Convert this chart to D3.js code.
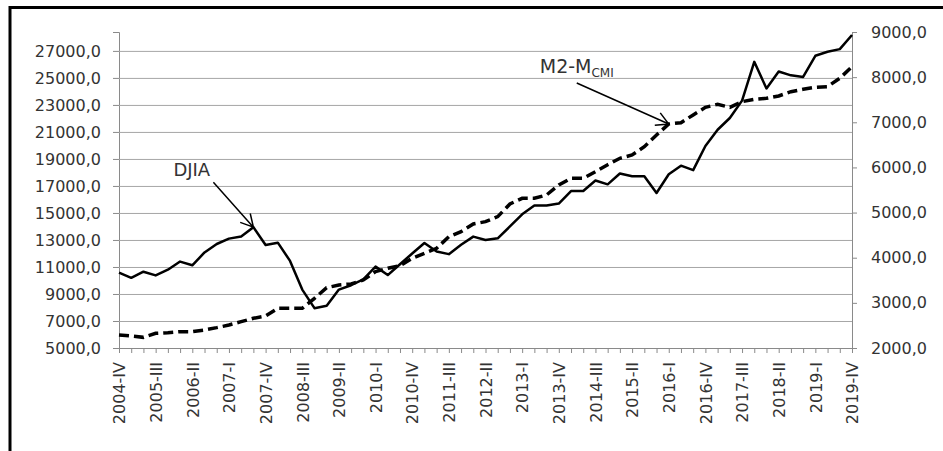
<!DOCTYPE html>
<html>
<head>
<meta charset="utf-8">
<script src="https://cdn.jsdelivr.net/npm/d3@7"></script>
<style>
  body { margin: 0; background: #fff; }
  text { font-family: "DejaVu Sans", sans-serif; fill: #333; }
</style>
</head>
<body>
<div id="chart"></div>
<script>
// quarters from 2004-IV to 2019-IV
const years = d3.range(2004, 2020);
const quarters = ["I", "II", "III", "IV"];
const categories = years.flatMap(y => quarters.map(q => y + "-" + q)).slice(3);

// DJIA, left axis
const djia = [
    10580, 10200, 10650, 10375, 10800, 11400, 11125, 12075, 12700, 13100,
    13250, 13950, 12625, 12800, 11450, 9325, 7950, 8125, 9325, 9650,
    10075, 11025, 10400, 11200, 12000, 12775, 12150, 11950, 12650, 13250,
    13000, 13125, 14000, 14900, 15550, 15550, 15700, 16625, 16625, 17400,
    17120, 17920, 17720, 17720, 16480, 17870, 18500, 18170, 19960, 21160,
    22030, 23320, 26190, 24220, 25470, 25190, 25070, 26640, 26940, 27130,
    28180
];

// M2-M_CMI, right axis
const m2 = [
    2288, 2266, 2236, 2325, 2340, 2362, 2362, 2399, 2451, 2510,
    2584, 2658, 2709, 2879, 2879, 2879, 3100, 3336, 3396, 3420,
    3506, 3691, 3765, 3824, 3987, 4098, 4209, 4466, 4577, 4747,
    4799, 4910, 5190, 5316, 5316, 5390, 5611, 5759, 5759, 5906,
    6060, 6202, 6276, 6460, 6719, 6962, 6991, 7162, 7332, 7398,
    7332, 7457, 7509, 7531, 7583, 7678, 7731, 7775, 7790, 7975,
    8232
];

const leftTicks = d3.range(5000, 27001, 2000);
const rightTicks = d3.range(2000, 9001, 1000);

const W = 943, H = 451;
const plot = { left: 119, right: 852, top: 32, bottom: 348 };

const svg = d3.select("#chart").append("svg")
    .attr("width", W)
    .attr("height", H);

const x = d3.scalePoint().domain(categories).range([plot.left, plot.right]);
const yL = d3.scaleLinear().domain([5000, 28400]).range([plot.bottom, plot.top]);
const yR = d3.scaleLinear().domain([2000, 9000]).range([plot.bottom, plot.top]);

const fmt = v => d3.format(".1f")(v).replace(".", ",");

// outer frame (only top and left edges are visible)
svg.append("path")
    .attr("d", `M10,${H} V7.5 H${W}`)
    .attr("fill", "none")
    .attr("stroke", "#000")
    .attr("stroke-width", 3);

// gridlines + left axis
const gl = svg.append("g")
    .attr("transform", `translate(${plot.left},0)`)
    .call(d3.axisLeft(yL).tickValues(leftTicks).tickSize(6).tickFormat(fmt));
gl.select(".domain").attr("stroke", "#8a8a8a");
gl.selectAll(".tick line").attr("stroke", "#8a8a8a");
gl.selectAll(".tick").append("line")
    .attr("x2", plot.right - plot.left)
    .attr("stroke", "#a6a6a6");
gl.selectAll(".tick text")
    .attr("x", -18)
    .style("font-size", "16px")
    .style("font-family", "DejaVu Sans")
    .attr("fill", "#333");

// right axis
const gr = svg.append("g")
    .attr("transform", `translate(${plot.right},0)`)
    .call(d3.axisRight(yR).tickValues(rightTicks).tickSize(5).tickFormat(fmt));
gr.select(".domain").attr("stroke", "#8a8a8a");
gr.selectAll(".tick line").attr("stroke", "#8a8a8a");
gr.selectAll(".tick text")
    .attr("x", 19)
    .style("font-size", "16px")
    .style("font-family", "DejaVu Sans")
    .attr("fill", "#333");

// category axis
const gx = svg.append("g")
    .attr("transform", `translate(0,${plot.bottom})`)
    .call(d3.axisBottom(x).tickSize(5)
        .tickFormat((d, i) => i % 3 === 0 ? d : ""));
gx.select(".domain").attr("stroke", "#8a8a8a");
gx.selectAll(".tick line").attr("stroke", "#8a8a8a");
gx.selectAll(".tick text")
    .attr("transform", "rotate(-90)")
    .attr("text-anchor", "end")
    .attr("x", -14)
    .attr("y", 0)
    .attr("dy", "0.36em")
    .style("font-size", "16px")
    .style("font-family", "DejaVu Sans")
    .attr("fill", "#333");

// lines
svg.append("path")
    .datum(m2)
    .attr("fill", "none")
    .attr("stroke", "#000")
    .attr("stroke-width", 3.5)
    .attr("stroke-dasharray", "10,5")
    .attr("d", d3.line().x((d, i) => x(categories[i])).y(d => yR(d)));

svg.append("path")
    .datum(djia)
    .attr("fill", "none")
    .attr("stroke", "#000")
    .attr("stroke-width", 2.5)
    .attr("stroke-linejoin", "round")
    .attr("d", d3.line().x((d, i) => x(categories[i])).y(d => yL(d)));

// annotations with open arrowheads
function arrow(x0, y0, x1, y1) {
    const a = Math.atan2(y1 - y0, x1 - x0);
    const L = 14, s = 0.5;
    const p1 = [x1 - L * Math.cos(a - s), y1 - L * Math.sin(a - s)];
    const p2 = [x1 - L * Math.cos(a + s), y1 - L * Math.sin(a + s)];
    svg.append("path")
        .attr("d", `M${x0},${y0} L${x1},${y1} M${p1[0]},${p1[1]} L${x1},${y1} L${p2[0]},${p2[1]}`)
        .attr("fill", "none")
        .attr("stroke", "#000")
        .attr("stroke-width", 1.5);
}

const dTip = [x(categories[11]), yL(djia[11])];
arrow(dTip[0] - 40, dTip[1] - 45, dTip[0], dTip[1]);
svg.append("text")
    .attr("x", dTip[0] - 80)
    .attr("y", dTip[1] - 51)
    .style("font-size", "18px")
    .text("DJIA");

const mTip = [x(categories[45]), yR(m2[45])];
arrow(mTip[0] - 92, mTip[1] - 41, mTip[0], mTip[1]);
const mt = svg.append("text")
    .attr("x", mTip[0] - 129)
    .attr("y", mTip[1] - 51)
    .style("font-size", "19px");
mt.append("tspan").text("M2-M");
mt.append("tspan").attr("dy", 4).style("font-size", "12px").text("CMI");
</script>
</body>
</html>
